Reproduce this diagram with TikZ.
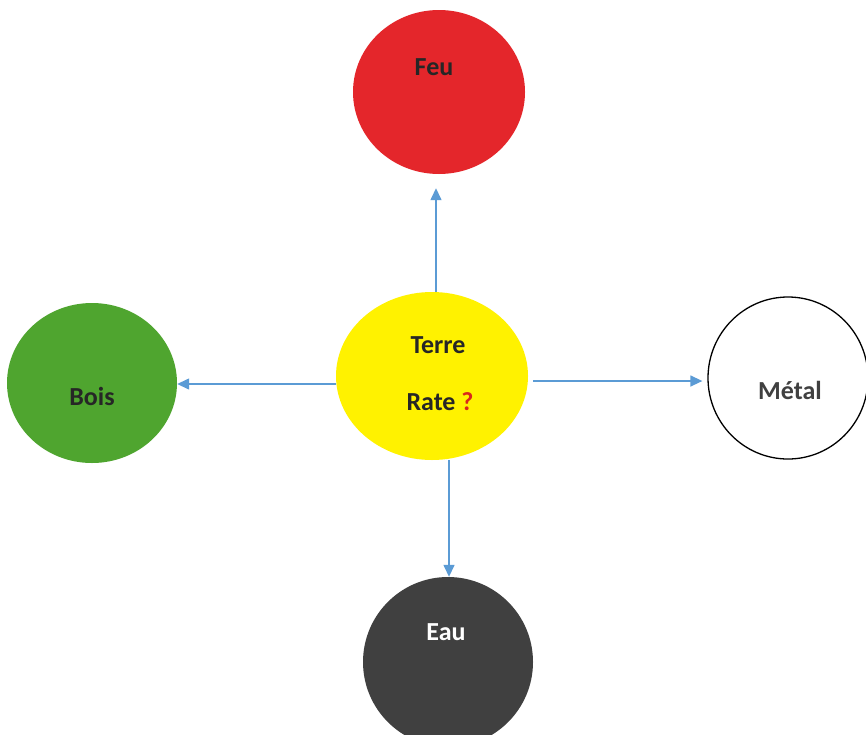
\documentclass[tikz,border=0pt]{standalone}
\usepackage{fontspec}
\setmainfont{Carlito}
\usetikzlibrary{arrows.meta,shapes.geometric}
\definecolor{feured}{HTML}{E4262B}
\definecolor{boisgreen}{HTML}{4FA52F}
\definecolor{terreyellow}{HTML}{FFF200}
\definecolor{eaudark}{HTML}{404040}
\definecolor{arrowblue}{HTML}{5B9BD5}
\definecolor{txtdark}{HTML}{262626}
\definecolor{metalgray}{HTML}{404040}
\definecolor{qred}{HTML}{D9261C}
\begin{document}
\begin{tikzpicture}[x=1pt,y=-1pt,
  disc/.style={ellipse,inner sep=0pt},
  lbl/.style={font=\fontsize{26}{30}\selectfont\bfseries, text=txtdark},
  arr/.style={draw=arrowblue, line width=1.4pt, -{Triangle[length=12pt,width=11pt]}}]
\useasboundingbox (0,0) rectangle (866,734);
\clip (0,0) rectangle (866,734);
\fill[white] (0,0) rectangle (866,734);
% circles
\node[disc, fill=feured, minimum width=172pt, minimum height=164pt] (feu) at (439,92) {};
\node[disc, fill=boisgreen, minimum width=170pt, minimum height=160pt] (bois) at (92,383) {};
\node[disc, fill=terreyellow, minimum width=192pt, minimum height=168pt] (terre) at (432,376) {};
\node[disc, draw=black, line width=1.3pt, fill=white, minimum width=160pt, minimum height=162pt] (metal) at (788,378) {};
\node[disc, fill=eaudark, minimum width=170pt, minimum height=170pt] (eau) at (448,662) {};
% arrows
\draw[arr, shorten >=14pt] ([xshift=4pt]terre.north) -- ([xshift=4pt]terre.north |- feu.south);
\draw[arr] ([yshift=-8pt]terre.west) -- ([yshift=-8pt]terre.west -| bois.east);
\draw[arr, shorten <=5pt, shorten >=5pt] ([yshift=-5pt]terre.east) -- ([yshift=-5pt]terre.east -| metal.west);
\draw[arr] ([xshift=17pt]terre.south) -- ([xshift=17pt]terre.south |- eau.north);
% texts
\node[lbl] (feut) at (434,67) {Feu};
\node[lbl] (boist) at (92,396) {Bois};
\node[lbl] (terret) at (438,345) {Terre};
\node[lbl] (ratet) at (440,402) {Rate \textcolor{qred}{?}};
\node[lbl, text=metalgray] (metalt) at (790,390) {Métal};
\node[lbl, text=white] (eaut) at (446,632) {Eau};
\end{tikzpicture}
\end{document}
